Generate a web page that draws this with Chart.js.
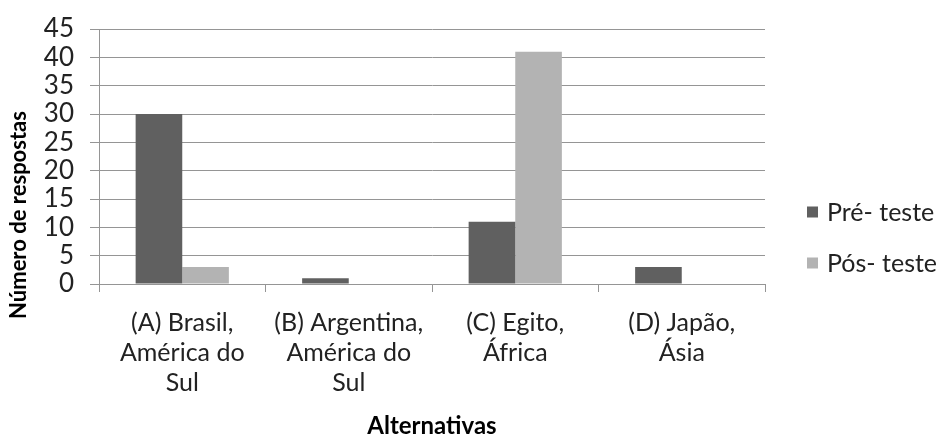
<!DOCTYPE html>
<html>
<head>
<meta charset="utf-8">
<script src="https://cdn.jsdelivr.net/npm/chart.js@4"></script>
<style>
  html, body { margin: 0; padding: 0; background: #fff; }
  #wrap { width: 941px; height: 436px; }
</style>
</head>
<body>
<div id="wrap"><canvas id="chart"></canvas></div>
<script>
const categories = [
    ['(A) Brasil,', 'América do', 'Sul'],
    ['(B) Argentina,', 'América do', 'Sul'],
    ['(C) Egito,', 'África'],
    ['(D) Japão,', 'Ásia']
];
const preTeste = [30, 1, 11, 3];
const posTeste = [3, 0, 41, 0];
const yTicks = { min: 0, max: 45, step: 5 };
const yTitle = 'Número de respostas';

const textColor = '#222';
const lineColor = '#959595';
const fontFamily = 'Lato, "Open Sans", sans-serif';

// legend at the right and the rotated y title (centred on the canvas height), drawn by hand
const sideLegend = {
    id: 'sideLegend',
    afterDraw(chart) {
        const ctx = chart.ctx;
        const area = chart.chartArea;
        const x = area.right + 42;
        ctx.save();
        ctx.font = '25px ' + fontFamily;
        ctx.textBaseline = 'middle';
        chart.data.datasets.forEach((ds, i) => {
            const y = 212 + i * 51;
            ctx.fillStyle = ds.backgroundColor;
            ctx.fillRect(x, y - 5.5, 11, 11);
            ctx.fillStyle = textColor;
            ctx.fillText(ds.label, x + 20, y + 1);
        });

        ctx.translate(19, chart.height / 2 - 3);
        ctx.rotate(-Math.PI / 2);
        ctx.textAlign = 'center';
        ctx.fillStyle = '#000';
        ctx.font = 'bold 22px ' + fontFamily;
        ctx.fillText(yTitle, 0, 0);
        ctx.restore();
    }
};

new Chart(document.getElementById('chart'), {
    type: 'bar',
    data: {
        labels: categories,
        datasets: [
            { label: 'Pré- teste', data: preTeste, backgroundColor: '#606060' },
            { label: 'Pós- teste', data: posTeste, backgroundColor: '#b3b3b3' }
        ]
    },
    options: {
        responsive: true,
        maintainAspectRatio: false,
        animation: false,
        datasets: { bar: { barPercentage: 1, categoryPercentage: 0.56 } },
        layout: { padding: { top: 22, right: 176, bottom: 0, left: 0 } },
        plugins: {
            legend: { display: false },
            tooltip: { enabled: false }
        },
        scales: {
            x: {
                afterFit(scale) { scale.height = 152; },
                grid: {
                    offset: true,
                    drawOnChartArea: false,
                    color: lineColor,
                    tickLength: 8
                },
                border: { color: lineColor },
                ticks: {
                    color: textColor,
                    padding: 16,
                    maxRotation: 0,
                    autoSkip: false,
                    font: { family: fontFamily, size: 25, lineHeight: '30px' }
                },
                title: {
                    display: true,
                    text: 'Alternativas',
                    color: '#000',
                    padding: { top: 0, bottom: 0 },
                    font: { family: fontFamily, size: 24, weight: 'bold', lineHeight: 0.8 }
                }
            },
            y: {
                min: yTicks.min,
                max: yTicks.max,
                afterFit(scale) { scale.width = 99; },
                grid: { color: lineColor, tickLength: 9 },
                border: { color: lineColor },
                ticks: {
                    stepSize: yTicks.step,
                    autoSkip: false,
                    color: textColor,
                    padding: 16,
                    font: { family: fontFamily, size: 26, lineHeight: 1 }
                }
            }
        }
    },
    plugins: [sideLegend]
});
</script>
</body>
</html>
